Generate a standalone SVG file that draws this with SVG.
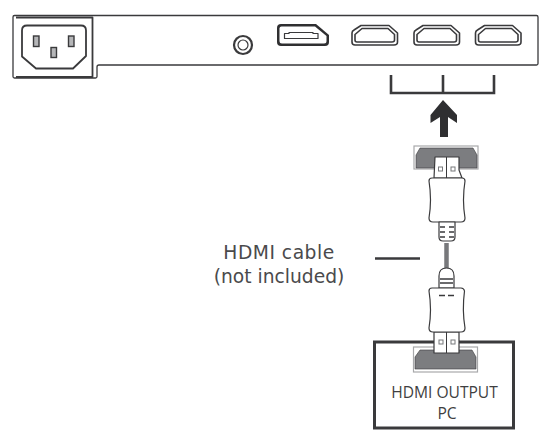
<svg xmlns="http://www.w3.org/2000/svg" width="551" height="437" viewBox="0 0 551 437">
<style>
.o{fill:none;stroke:#3a3a3c;stroke-linejoin:round}
.p{fill:#fff;stroke:#3a3a3c;stroke-width:1.2;stroke-linejoin:round}
.g{fill:#7c7d80;stroke:#3a3a3c;stroke-width:.6}
.s{fill:#fff;stroke:#a8a9ab;stroke-width:1.2}
.k{stroke:#3a3a3c;fill:none}
.q{fill:none;stroke:#77787b;stroke-width:1}
.m{fill:#b5b6b8;stroke:#3a3a3c;stroke-width:1.4}
.l{font-family:"DejaVu Sans","Liberation Sans",sans-serif;font-size:18.7px;fill:#4a4a4c;text-anchor:middle}
.h{font-family:"Open Sans","Liberation Sans",sans-serif;font-size:15.6px;fill:#3f3f41;text-anchor:middle}
</style>
<defs>
<g id="hdmi"><path class="o" stroke-width="1.600" d="M361 25.500H389L397.500 33V42Q397.500 45 394 45H355Q352 45 352 42V33Q352 31 354 30Z"/><path class="o" stroke-width="1.600" d="M362 28.500H388L394.500 34.500V40Q394.500 42 392 42H357Q355 42 355 40V34.500Z"/></g>
</defs>
<g id="panel">
<path class="o" stroke-width="1.300" d="M14.500 15.500H536.500Q538 15.500 538 17V63.500Q538 65 536.500 65H99Q97 65 97 67V76.500Q97 78 95.500 78H14.500Q13 78 13 76.500V17Q13 15.500 14.500 15.500Z"/>
<path class="o" stroke-width="1.800" d="M16 17.500H92.500V77H16"/>
</g>
<g id="power-socket">
<path class="o" stroke-width="1.800" d="M27 25.500H81Q86 25.500 86 30.500V56L73 68.500H36L22 56.500V30.500Q22 25.500 27 25.500Z"/>
<rect class="m" x="33.500" y="36" width="5.500" height="10.500"/>
<rect class="m" x="68.500" y="36" width="5.500" height="10.500"/>
<rect class="m" x="51" y="47.500" width="5.500" height="10"/>
</g>
<g id="audio-jack">
<circle class="o" cx="243" cy="45" r="9" stroke-width="2.200"/>
<circle class="o" cx="243" cy="45" r="5" stroke-width="1.200"/>
</g>
<g id="displayport">
<path d="M281 24H316L329 35V42Q329 46 325 46H281Q277 46 277 42V28Q277 24 281 24Z" fill="#2f2f31"/>
<path d="M281.500 26.500H315L326.500 36V41Q326.500 43.500 324 43.500H282Q279.500 43.500 279.500 41V28.500Q279.500 26.500 281.500 26.500Z" fill="#fff"/>
<path class="o" stroke-width="1.200" d="M284.500 33.500H289V32.500H313V33.500H318V38.500H284.500Z"/>
</g>
<g id="hdmi-1"><use href="#hdmi"/></g>
<g id="hdmi-2"><use href="#hdmi" x="62"/></g>
<g id="hdmi-3"><use href="#hdmi" x="123.500"/></g>
<g id="bracket"><path class="k" stroke-width="2.600" d="M391 75V93H494V75M443 75V93"/></g>
<g id="arrow"><path d="M443 100L457 115V123L448 117V137H440V117L430.500 123V115Z" fill="#2f2f31"/></g>
<g id="top-socket">
<rect class="s" x="414" y="146" width="64" height="23"/>
<path class="g" d="M420 148H473L477 155V168H416V155Z"/>
</g>
<g id="top-plug">
<path class="p" d="M435 157H459V170L462 178H434Z"/>
<path class="k" stroke-width="1" d="M446.500 157V178"/>
<rect class="q" x="438.500" y="167" width="4" height="4"/>
<rect class="q" x="451" y="167" width="4" height="4"/>
<path class="p" d="M432 178H462Q465 178 465 181Q462 200 465 218Q465 222 461 222H433Q429 222 429 218Q432 200 429 181Q429 178 432 178Z"/>
<path class="p" d="M439 222H455V237Q455 241 451 241H443Q439 241 439 237Z"/>
<path class="k" stroke-width="1.500" d="M440 227H445M449 227H454M440 232H445M449 232H454M440 237H445M449 237H454"/>
</g>
<g id="label-line"><path class="k" stroke-width="2.400" d="M375 258.500H420"/></g>
<g id="cable"><path d="M446.500 243V269" stroke="#77787b" stroke-width="4.500" fill="none"/></g>
<g id="pc-box">
<rect class="k" x="374.500" y="342" width="139" height="86" stroke-width="3" fill="#fff"/>
<rect class="s" x="413.500" y="347" width="64" height="25"/>
<path class="g" d="M420 350H472L476 357V369H415V357Z"/>
<text class="h" x="444.500" y="398">HDMI OUTPUT</text>
<text class="h" x="447" y="419">PC</text>
</g>
<g id="bottom-plug">
<path class="p" d="M434 332H459V353H434Z"/>
<path class="k" stroke-width="1" d="M446.500 332V353"/>
<rect class="q" x="439" y="340" width="4" height="4"/>
<rect class="q" x="451" y="340" width="4" height="4"/>
<path class="p" d="M439 288V276Q439 268 446.500 268Q454 268 454 276V288Z"/>
<path class="k" stroke-width="1.500" d="M440 279H453M440 283H453"/>
<path class="p" d="M432 288H461Q464 288 464.500 291Q462 310 465 328Q465 332 461 332H433Q429 332 429 328Q432 310 429 291Q429 288 432 288Z"/>
<path class="k" stroke-width="1.700" d="M439 295.500H445M448 295.500H454"/>
</g>
<g id="cable-label">
<text class="l" x="279" y="259" letter-spacing=".5">HDMI cable</text>
<text class="l" x="279" y="283">(not included)</text>
</g>
</svg>
